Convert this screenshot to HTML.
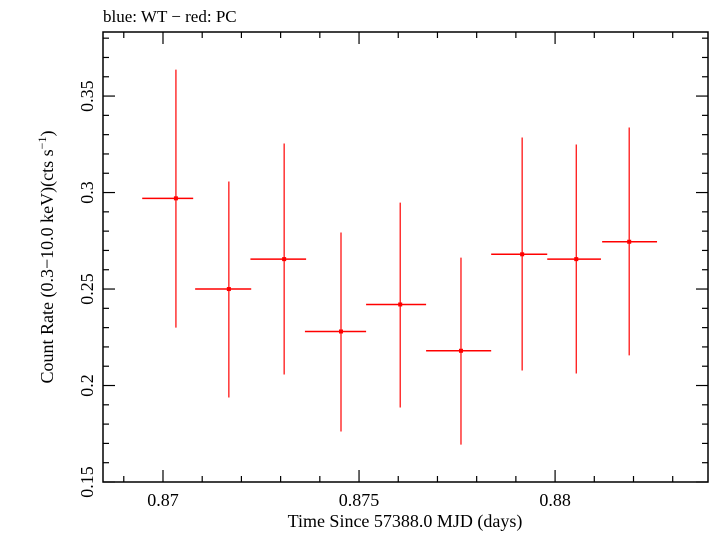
<!DOCTYPE html>
<html><head><meta charset="utf-8"><style>
body{margin:0;background:#fff}
svg text{font-family:"Liberation Serif",serif;fill:#000}
</style></head><body>
<svg id="chart" width="709" height="532" xmlns="http://www.w3.org/2000/svg">
<text x="103" y="22" font-size="17">blue: WT − red: PC</text>
<rect x="103" y="32" width="605" height="450" fill="none" stroke="#000" stroke-width="1.5"/>
<g id="ticks"></g>
<g id="marks"></g>
<text x="405" y="527" font-size="18" text-anchor="middle">Time Since 57388.0 MJD (days)</text>
<text transform="translate(53,257) rotate(-90)" font-size="18" text-anchor="middle">Count Rate (0.3−10.0 keV)(cts s<tspan font-size="12" dy="-7">−1</tspan><tspan dy="7">)</tspan></text>
</svg>
<script>
const binStart=[0.86947,0.87082,0.87223,0.87362,0.87518,0.87671,0.87837,0.87980,0.88120];
const binEnd=[0.87077,0.87225,0.87365,0.87518,0.87671,0.87837,0.87980,0.88117,0.88260];
const centers=[0.87033,0.87168,0.87309,0.87454,0.87605,0.87760,0.87916,0.88054,0.88189];
const rates=[0.297,0.250,0.2655,0.228,0.242,0.218,0.268,0.2655,0.2745];
const errHi=[0.3637,0.3057,0.3254,0.2793,0.2948,0.2663,0.3285,0.3249,0.3337];
const errLo=[0.2300,0.1938,0.2057,0.1762,0.1886,0.1694,0.2078,0.2062,0.2156];
const xTicks=[0.87,0.875,0.88];
const xTickLabels=["0.87","0.875","0.88"];
const yTicks=[0.15,0.2,0.25,0.3,0.35];
const yTickLabels=["0.15","0.2","0.25","0.3","0.35"];
const L=103,R=708,T=32,B=482;
const xMin=0.86847,xMax=0.8839,yMin=0.15,yMax=0.3832;
const X=v=>L+(v-xMin)/(xMax-xMin)*(R-L);
const Y=v=>B-(v-yMin)/(yMax-yMin)*(B-T);
const NS="http://www.w3.org/2000/svg";
function mk(tag,attrs,parent){const e=document.createElementNS(NS,tag);for(const k in attrs)e.setAttribute(k,attrs[k]);parent.appendChild(e);return e;}
const tg=document.getElementById('ticks'),mg=document.getElementById('marks');
for(let i=0;i<=16;i++){const v=0.869+i*0.001;if(v>xMax)break;const x=X(v);const maj=xTicks.some(t=>Math.abs(t-v)<1e-7);const len=maj?12:6;
 let a=mk('line',{x1:x,x2:x,y1:B,y2:B-len,stroke:'#000','stroke-width':1.2},tg);
 let b=mk('line',{x1:x,x2:x,y1:T,y2:T+len,stroke:'#000','stroke-width':1.2},tg);}
xTicks.forEach((v,i)=>{const t=mk('text',{x:X(v),y:506,'font-size':18,'text-anchor':'middle'},tg);t.textContent=xTickLabels[i];});
for(let i=0;i<=23;i++){const v=0.15+i*0.01;if(v>yMax)break;const y=Y(v);const maj=yTicks.some(t=>Math.abs(t-v)<1e-7);const len=maj?12:6;
 let a=mk('line',{x1:L,x2:L+len,y1:y,y2:y,stroke:'#000','stroke-width':1.2},tg);
 let b=mk('line',{x1:R,x2:R-len,y1:y,y2:y,stroke:'#000','stroke-width':1.2},tg);}
yTicks.forEach((v,i)=>{const t=mk('text',{transform:`translate(93,${Y(v)}) rotate(-90)`,'font-size':18,'text-anchor':'middle'},tg);t.textContent=yTickLabels[i];});
rates.forEach((r,i)=>{const g=mk('g',{},mg);
 mk('line',{x1:X(binStart[i]),x2:X(binEnd[i]),y1:Y(r),y2:Y(r),stroke:'#f00','stroke-width':1.5},g);
 mk('line',{x1:X(centers[i]),x2:X(centers[i]),y1:Y(errHi[i]),y2:Y(errLo[i]),stroke:'#f00','stroke-width':1.2},g);
 mk('rect',{x:X(centers[i])-2,y:Y(r)-2,width:4,height:4,fill:'#f00'},g);});
</script>
</body></html>
